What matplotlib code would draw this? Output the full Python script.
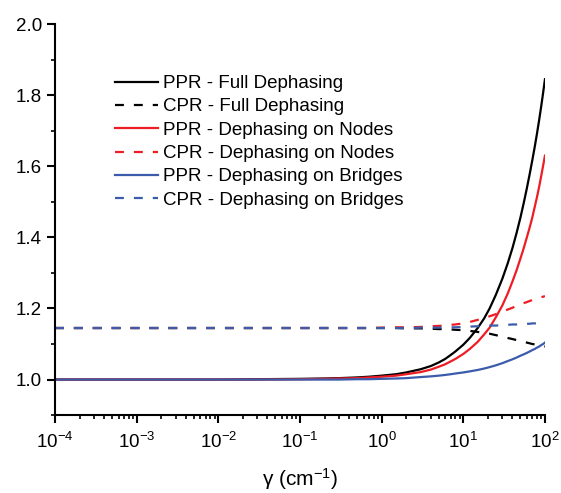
import matplotlib
matplotlib.use('Agg')
import matplotlib.pyplot as plt
from matplotlib.ticker import LogLocator, MultipleLocator, NullFormatter

plt.rcParams['font.family'] = ['Liberation Sans', 'DejaVu Sans']
plt.rcParams['mathtext.fontset'] = 'custom'
plt.rcParams['mathtext.rm'] = 'Liberation Sans'
plt.rcParams['mathtext.it'] = 'Liberation Sans'

# gamma (cm^-1) sample points
gamma = [1e-4, 1e-3, 1e-2, 0.03, 0.1, 0.2, 0.3, 0.5, 0.7, 1,
         1.5, 2, 3, 4, 5, 6, 7, 8, 10, 12,
         15, 18, 21, 25, 30, 35, 40, 45, 50, 55,
         60, 65, 70, 75, 80, 85, 90, 95, 100]

ppr_full = [1.000, 1.000, 1.000, 1.001, 1.002, 1.003, 1.004, 1.006, 1.008, 1.011,
            1.015, 1.020, 1.029, 1.038, 1.048, 1.058, 1.069, 1.079, 1.098, 1.117,
            1.145, 1.172, 1.200, 1.238, 1.283, 1.327, 1.370, 1.413, 1.455, 1.497,
            1.538, 1.578, 1.617, 1.655, 1.693, 1.731, 1.769, 1.807, 1.845]
cpr_full = [1.145, 1.145, 1.145, 1.145, 1.145, 1.145, 1.145, 1.145, 1.145, 1.145,
            1.145, 1.144, 1.144, 1.143, 1.142, 1.142, 1.141, 1.140, 1.139, 1.137,
            1.134, 1.131, 1.129, 1.125, 1.121, 1.117, 1.114, 1.111, 1.108, 1.106,
            1.104, 1.102, 1.100, 1.099, 1.097, 1.096, 1.095, 1.094, 1.093]
ppr_nodes = [1.000, 1.000, 1.000, 1.000, 1.001, 1.002, 1.003, 1.004, 1.006, 1.008,
             1.011, 1.015, 1.021, 1.028, 1.036, 1.043, 1.051, 1.058, 1.072, 1.086,
             1.106, 1.127, 1.146, 1.175, 1.208, 1.242, 1.276, 1.308, 1.340, 1.370,
             1.400, 1.428, 1.456, 1.486, 1.514, 1.543, 1.573, 1.602, 1.630]
cpr_nodes = [1.145, 1.145, 1.145, 1.145, 1.145, 1.145, 1.145, 1.145, 1.145, 1.146,
             1.147, 1.147, 1.148, 1.150, 1.151, 1.152, 1.154, 1.155, 1.158, 1.162,
             1.168, 1.173, 1.178, 1.184, 1.191, 1.197, 1.202, 1.207, 1.211, 1.215,
             1.218, 1.221, 1.224, 1.226, 1.228, 1.230, 1.232, 1.233, 1.235]
ppr_bridges = [1.000, 1.000, 1.000, 1.000, 1.000, 1.000, 1.000, 1.001, 1.001, 1.002,
               1.003, 1.004, 1.007, 1.009, 1.011, 1.013, 1.015, 1.017, 1.020, 1.023,
               1.027, 1.031, 1.035, 1.040, 1.046, 1.052, 1.057, 1.062, 1.067, 1.071,
               1.075, 1.079, 1.083, 1.086, 1.090, 1.093, 1.097, 1.100, 1.104]
cpr_bridges = [1.145, 1.145, 1.145, 1.145, 1.145, 1.145, 1.145, 1.145, 1.145, 1.145,
               1.145, 1.145, 1.146, 1.146, 1.146, 1.147, 1.147, 1.147, 1.148, 1.149,
               1.150, 1.151, 1.152, 1.152, 1.153, 1.154, 1.155, 1.155, 1.156, 1.156,
               1.157, 1.157, 1.158, 1.158, 1.158, 1.159, 1.159, 1.159, 1.160]

RED = '#ee1c24'
BLUE = '#3b5bab'
series = [
    (ppr_full, 'black', '-', 'PPR - Full Dephasing'),
    (cpr_full, 'black', '--', 'CPR - Full Dephasing'),
    (ppr_nodes, RED, '-', 'PPR - Dephasing on Nodes'),
    (cpr_nodes, RED, '--', 'CPR - Dephasing on Nodes'),
    (ppr_bridges, BLUE, '-', 'PPR - Dephasing on Bridges'),
    (cpr_bridges, BLUE, '--', 'CPR - Dephasing on Bridges'),
]

fig = plt.figure(figsize=(5.61, 4.93), dpi=100)
ax = fig.add_axes([0.098, 0.158, 0.8734, 0.7931])

for vals, col, ls, lab in series:
    line, = ax.plot(gamma, vals, color=col, linestyle=ls, linewidth=1.6, label=lab)
    if ls == '--':
        line.set_dashes((4, 4.5))

ax.set_xscale('log')
ax.set_xlim(1e-4, 1e2)
ax.set_ylim(0.9, 2.0)

ax.xaxis.set_minor_locator(LogLocator(base=10, subs=range(2, 10), numticks=20))
ax.xaxis.set_minor_formatter(NullFormatter())
ax.yaxis.set_minor_locator(MultipleLocator(0.1))
ax.set_yticks([1.0, 1.2, 1.4, 1.6, 1.8, 2.0])
ax.set_xticks([1e-4, 1e-3, 1e-2, 1e-1, 1e0, 1e1, 1e2])
ax.set_xticklabels([r'$10^{-4}$', r'$10^{-3}$', r'$10^{-2}$', r'$10^{-1}$',
                    r'$10^{0}$', r'$10^{1}$', r'$10^{2}$'])

for s in ['top', 'right']:
    ax.spines[s].set_visible(False)
for s in ['left', 'bottom']:
    ax.spines[s].set_linewidth(1.5)

ax.tick_params(which='major', direction='out', length=6, width=1.5,
               labelsize=13.5, colors='black')
ax.tick_params(axis='x', which='major', pad=6)
ax.tick_params(which='minor', direction='out', length=3, width=1.2)

ax.set_xlabel(r'$\gamma$ (cm$^{-1}$)', fontsize=15, labelpad=10)

ax.legend(loc='upper left', bbox_to_anchor=(115 / 561, 1 - 75 / 493),
          bbox_transform=fig.transFigure, frameon=False, fontsize=13.5,
          handlelength=2.3, handletextpad=0.27, labelspacing=0.33,
          borderpad=0, borderaxespad=0)

plt.savefig('out.png', dpi=100)
plt.close()
